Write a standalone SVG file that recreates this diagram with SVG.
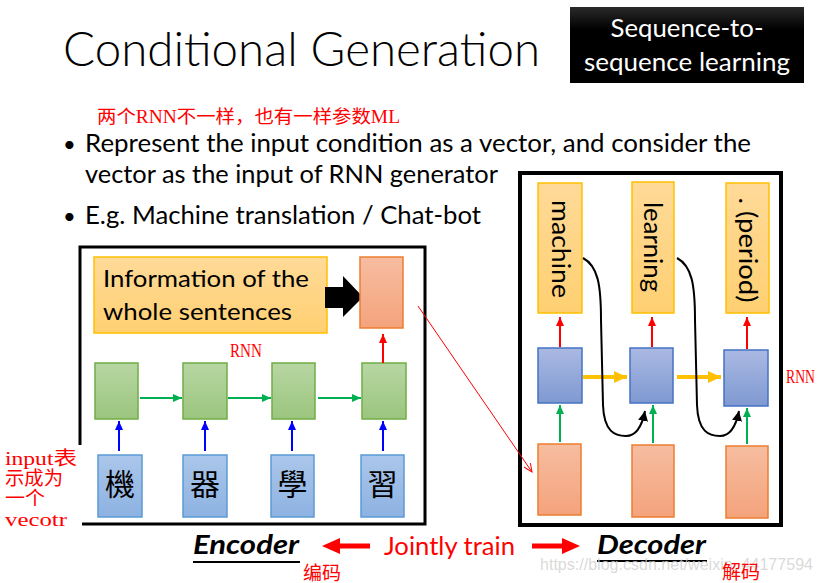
<svg xmlns="http://www.w3.org/2000/svg" width="823" height="583" viewBox="0 0 823 583">
<style>
.sans{font-family:Lato,"Open Sans","Liberation Sans",sans-serif;fill:#000}
.cn{font-family:"Liberation Serif","Noto Sans CJK SC",serif;fill:#ff0000}
.box{stroke-width:1.5}
.g{fill:url(#gGreen);stroke:#70AD47}
.b{fill:url(#gBlue);stroke:#5B9BD5}
.s{fill:url(#gSalmon);stroke:#ED7D31}
.y{fill:url(#gYellow);stroke:#FFC000}
.d{fill:url(#gDblue);stroke:#4472C4}
.zh{font-family:"Noto Sans CJK TC","Noto Sans CJK SC",serif;font-size:30px;fill:#000;text-anchor:middle}
.vt{font-family:Lato,"Open Sans","Liberation Sans",sans-serif;font-size:25px;fill:#000;text-anchor:middle}
.ar{fill:none;stroke-width:2}
</style>
<defs>
<linearGradient id="gGreen" x1="0" y1="0" x2="0" y2="1"><stop offset="0" stop-color="#B7D7A3"/><stop offset="1" stop-color="#9BC57E"/></linearGradient>
<linearGradient id="gBlue" x1="0" y1="0" x2="0" y2="1"><stop offset="0" stop-color="#ABC6EA"/><stop offset="1" stop-color="#8DB2E2"/></linearGradient>
<linearGradient id="gSalmon" x1="0" y1="0" x2="0" y2="1"><stop offset="0" stop-color="#F6BDA0"/><stop offset="1" stop-color="#F4A37C"/></linearGradient>
<linearGradient id="gYellow" x1="0" y1="0" x2="0" y2="1"><stop offset="0" stop-color="#FFDA98"/><stop offset="1" stop-color="#FFD072"/></linearGradient>
<linearGradient id="gDblue" x1="0" y1="0" x2="0" y2="1"><stop offset="0" stop-color="#AAB9E3"/><stop offset="1" stop-color="#7F99D1"/></linearGradient>
<linearGradient id="gSeq" x1="0" y1="0" x2="0" y2="1"><stop offset="0" stop-color="#2a2a2a"/><stop offset="0.3" stop-color="#000"/><stop offset="1" stop-color="#000"/></linearGradient>
<marker id="mRed" markerUnits="userSpaceOnUse" markerWidth="10" markerHeight="10" refX="9" refY="5" orient="auto"><path d="M0,1 L9,5 L0,9 Z" fill="#ff0000"/></marker>
<marker id="mBlue" markerUnits="userSpaceOnUse" markerWidth="10" markerHeight="10" refX="9" refY="5" orient="auto"><path d="M0,1 L9,5 L0,9 Z" fill="#0000ff"/></marker>
<marker id="mGreen" markerUnits="userSpaceOnUse" markerWidth="10" markerHeight="10" refX="9" refY="5" orient="auto"><path d="M0,1 L9,5 L0,9 Z" fill="#00B050"/></marker>
<marker id="mYellow" markerUnits="userSpaceOnUse" markerWidth="14" markerHeight="12" refX="13" refY="6" orient="auto"><path d="M0,0 L13,6 L0,12 Z" fill="#FFC000"/></marker>
<marker id="mBlack" markerUnits="userSpaceOnUse" markerWidth="12" markerHeight="12" refX="10" refY="6" orient="auto"><path d="M0,1 L10,6 L0,11 Z" fill="#000"/></marker>
<marker id="mThin" markerUnits="userSpaceOnUse" markerWidth="10" markerHeight="8" refX="9" refY="4" orient="auto"><path d="M0,0 L9,4 L0,8" fill="none" stroke="#ff0000" stroke-width="1"/></marker>
</defs>
<rect width="823" height="583" fill="#fff"/>

<g id="title">
<text x="63" y="66" font-family="Lato,'Open Sans',sans-serif" font-weight="300" font-size="47" textLength="477" lengthAdjust="spacingAndGlyphs">Conditional Generation</text>
</g>
<g id="seq-badge">
<rect x="570" y="7" width="234" height="76" fill="url(#gSeq)"/>
<text x="687" y="37" font-family="Lato,'Open Sans',sans-serif" font-size="25" fill="#fff" text-anchor="middle" textLength="153" lengthAdjust="spacingAndGlyphs">Sequence-to-</text>
<text x="687" y="71" font-family="Lato,'Open Sans',sans-serif" font-size="25" fill="#fff" text-anchor="middle" textLength="206" lengthAdjust="spacingAndGlyphs">sequence learning</text>
</g>
<g id="note-top">
<text class="cn" x="97" y="123" font-size="18" textLength="303" lengthAdjust="spacingAndGlyphs">两个RNN不一样，也有一样参数ML</text>
</g>
<g id="bullets" class="sans" font-size="25">
<text x="63" y="152" font-size="22">•</text>
<text x="85" y="152" textLength="666" lengthAdjust="spacingAndGlyphs">Represent the input condition as a vector, and consider the</text>
<text x="85" y="183" textLength="413" lengthAdjust="spacingAndGlyphs">vector as the input of RNN generator</text>
<text x="63" y="224" font-size="22">•</text>
<text x="85" y="224" textLength="396" lengthAdjust="spacingAndGlyphs">E.g. Machine translation / Chat-bot</text>
</g>

<g id="encoder">
<path d="M80,445 V247 H425 V524 H82" fill="none" stroke="#000" stroke-width="3"/>
<g id="info">
<rect x="94" y="257" width="233" height="76" fill="url(#gYellow)" stroke="#FFC000" stroke-width="1.5"/>
<text class="sans" x="103" y="287" font-size="24" textLength="206" lengthAdjust="spacingAndGlyphs">Information of the</text>
<text class="sans" x="103" y="320" font-size="24" textLength="189" lengthAdjust="spacingAndGlyphs">whole sentences</text>
</g>
<polygon id="big-arrow" points="325,287 343,287 343,276 363,297 343,317 343,308 325,308" fill="#000"/>
<rect id="enc-vec" class="s box" x="360" y="257" width="43" height="71"/>
<g id="enc-rnn">
<rect class="g box" x="95" y="363" width="43" height="56"/>
<rect class="g box" x="183" y="363" width="44" height="56"/>
<rect class="g box" x="272" y="363" width="43" height="56"/>
<rect class="g box" x="362" y="363" width="44" height="56"/>
</g>
<g id="enc-in">
<rect class="b box" x="98" y="455" width="44" height="62"/>
<rect class="b box" x="183" y="455" width="44" height="62"/>
<rect class="b box" x="271" y="455" width="43" height="62"/>
<rect class="b box" x="361" y="455" width="43" height="62"/>
<text class="zh" x="120" y="495">機</text>
<text class="zh" x="205" y="495">器</text>
<text class="zh" x="292.5" y="495">學</text>
<text class="zh" x="382.5" y="495">習</text>
</g>
<text class="cn" x="230" y="357" font-size="19" textLength="32" lengthAdjust="spacingAndGlyphs">RNN</text>
</g>

<g id="decoder">
<rect x="520" y="173" width="261" height="352" fill="none" stroke="#000" stroke-width="4"/>
<g id="dec-out">
<rect class="y box" x="538" y="183" width="44" height="130"/>
<rect class="y box" x="632" y="182" width="42" height="131"/>
<rect class="y box" x="726" y="183" width="43" height="130"/>
<text class="vt" transform="translate(552,249) rotate(90)" textLength="98" lengthAdjust="spacingAndGlyphs">machine</text>
<text class="vt" transform="translate(644,247) rotate(90)" textLength="90" lengthAdjust="spacingAndGlyphs">learning</text>
<text class="vt" transform="translate(739,250) rotate(90)" textLength="105" lengthAdjust="spacingAndGlyphs">. (period)</text>
</g>
<g id="dec-rnn">
<rect class="d box" x="538" y="348" width="44" height="55"/>
<rect class="d box" x="630" y="348" width="43" height="55"/>
<rect class="d box" x="724" y="350" width="44" height="56"/>
</g>
<g id="dec-in">
<rect class="s box" x="538" y="444" width="43" height="71"/>
<rect class="s box" x="632" y="445" width="42" height="72"/>
<rect class="s box" x="726" y="446" width="42" height="72"/>
</g>
<text class="cn" x="786" y="383" font-size="19" textLength="29" lengthAdjust="spacingAndGlyphs">RNN</text>
</g>

<g id="connectors">
<line class="ar" x1="383" y1="363" x2="383" y2="334" stroke="#ff0000" marker-end="url(#mRed)"/>
<line class="ar" x1="140" y1="398" x2="182" y2="398" stroke="#00B050" marker-end="url(#mGreen)"/>
<line class="ar" x1="228" y1="398" x2="271" y2="398" stroke="#00B050" marker-end="url(#mGreen)"/>
<line class="ar" x1="318" y1="398" x2="361" y2="398" stroke="#00B050" marker-end="url(#mGreen)"/>
<line class="ar" x1="119" y1="451" x2="119" y2="421" stroke="#0000ff" marker-end="url(#mBlue)"/>
<line class="ar" x1="205" y1="451" x2="205" y2="421" stroke="#0000ff" marker-end="url(#mBlue)"/>
<line class="ar" x1="292" y1="451" x2="292" y2="421" stroke="#0000ff" marker-end="url(#mBlue)"/>
<line class="ar" x1="383" y1="451" x2="383" y2="421" stroke="#0000ff" marker-end="url(#mBlue)"/>
<line x1="418" y1="306" x2="532" y2="472" stroke="#ff0000" stroke-width="1" marker-end="url(#mThin)"/>
<line class="ar" x1="560" y1="347" x2="560" y2="317" stroke="#ff0000" marker-end="url(#mRed)"/>
<line class="ar" x1="652" y1="347" x2="652" y2="317" stroke="#ff0000" marker-end="url(#mRed)"/>
<line class="ar" x1="747" y1="349" x2="747" y2="317" stroke="#ff0000" marker-end="url(#mRed)"/>
<line x1="583" y1="377" x2="627" y2="377" stroke="#FFC000" stroke-width="4" marker-end="url(#mYellow)"/>
<line x1="677" y1="377" x2="721" y2="377" stroke="#FFC000" stroke-width="4" marker-end="url(#mYellow)"/>
<line class="ar" x1="560" y1="442" x2="560" y2="405" stroke="#00B050" marker-end="url(#mGreen)"/>
<line class="ar" x1="653" y1="443" x2="653" y2="405" stroke="#00B050" marker-end="url(#mGreen)"/>
<line class="ar" x1="747" y1="444" x2="747" y2="408" stroke="#00B050" marker-end="url(#mGreen)"/>
<path class="ar" d="M583,258 C598,266 601,285 601,320 L603,405 C604,432 615,436 626,436 C636,436 642,426 645,411" stroke="#000" marker-end="url(#mBlack)"/>
<path class="ar" d="M677,258 C692,266 695,285 695,320 L697,405 C698,432 709,436 720,436 C730,436 736,426 739,411" stroke="#000" marker-end="url(#mBlack)"/>
<polygon points="322,546 340,538 340,543.5 370,543.5 370,548.5 340,548.5 340,554" fill="#ff0000"/>
<polygon points="580,546 562,538 562,543.5 532,543.5 532,548.5 562,548.5 562,554" fill="#ff0000"/>
</g>

<g id="note-left" class="cn" font-size="19">
<text x="5" y="465" textLength="72" lengthAdjust="spacingAndGlyphs">input表</text>
<text x="5" y="485" textLength="58" lengthAdjust="spacingAndGlyphs">示成为</text>
<text x="5" y="505" textLength="40" lengthAdjust="spacingAndGlyphs">一个</text>
<text x="5" y="526" textLength="62" lengthAdjust="spacingAndGlyphs">vecotr</text>
</g>

<g id="bottom">
<text x="193" y="554" font-family="Lato,'Open Sans',sans-serif" font-weight="bold" font-style="italic" font-size="27" textLength="106" lengthAdjust="spacingAndGlyphs">Encoder</text>
<line x1="193" y1="562" x2="300" y2="562" stroke="#000" stroke-width="2"/>
<text x="384" y="555" font-family="Lato,'Open Sans',sans-serif" font-size="25" fill="#ff0000" textLength="131" lengthAdjust="spacingAndGlyphs">Jointly train</text>
<text x="597" y="554" font-family="Lato,'Open Sans',sans-serif" font-weight="bold" font-style="italic" font-size="27" textLength="109" lengthAdjust="spacingAndGlyphs">Decoder</text>
<line x1="597" y1="561" x2="707" y2="561" stroke="#000" stroke-width="2"/>
<text class="cn" x="303" y="580" font-size="19">编码</text>
<text x="540" y="570" font-family="'Liberation Sans',sans-serif" font-size="16" fill="#d0d0d0" fill-opacity="0.8" textLength="273" lengthAdjust="spacingAndGlyphs">https://blog.csdn.net/weixin_44177594</text>
<text class="cn" x="722" y="579" font-size="19">解码</text>
</g>
</svg>
